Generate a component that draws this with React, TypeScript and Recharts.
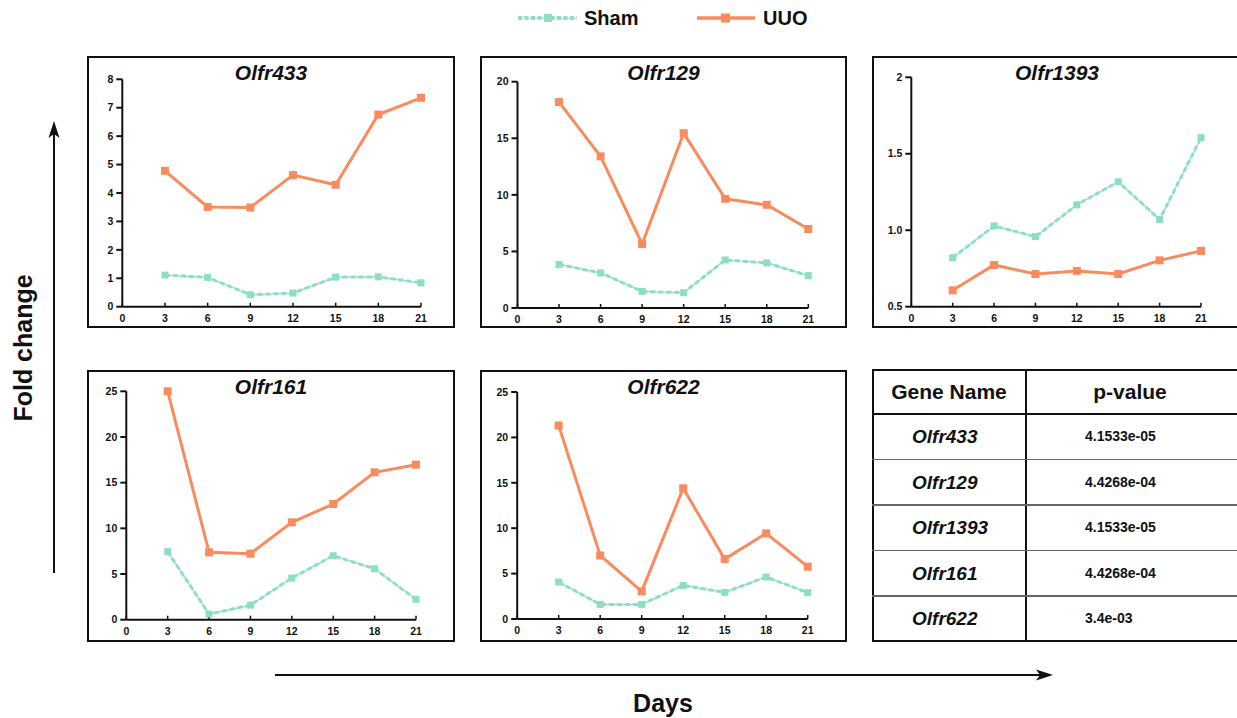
import React from "react";
import { LineChart, Line, XAxis, YAxis } from "recharts";

const FONT = '"Liberation Sans", Arial, Helvetica, sans-serif';
const ORANGE = "#F98B5E";
const TEAL = "#8CDFC1";
const INK = "#111";

// days on the x axis
const days = [3, 6, 9, 12, 15, 18, 21];
const xTicks = [0, 3, 6, 9, 12, 15, 18, 21];

// fold change per gene
const olfr433Sham = [1.11, 1.03, 0.42, 0.48, 1.04, 1.05, 0.84];
const olfr433Uuo = [4.78, 3.51, 3.49, 4.63, 4.29, 6.76, 7.35];
const olfr129Sham = [3.85, 3.1, 1.47, 1.35, 4.25, 3.98, 2.86];
const olfr129Uuo = [18.2, 13.4, 5.65, 15.45, 9.65, 9.12, 6.98];
const olfr1393Sham = [0.82, 1.028, 0.958, 1.166, 1.317, 1.07, 1.605];
const olfr1393Uuo = [0.607, 0.773, 0.714, 0.734, 0.714, 0.803, 0.865];
const olfr161Sham = [7.45, 0.62, 1.6, 4.56, 7.0, 5.58, 2.23];
const olfr161Uuo = [25.0, 7.37, 7.23, 10.66, 12.66, 16.13, 16.97];
const olfr622Sham = [4.07, 1.61, 1.61, 3.7, 2.93, 4.62, 2.9];
const olfr622Uuo = [21.3, 7.0, 3.04, 14.4, 6.6, 9.43, 5.76];

const yTicks433 = [0, 1, 2, 3, 4, 5, 6, 7, 8];
const yTicks129 = [0, 5, 10, 15, 20];
const yTicks1393 = [0.5, 1.0, 1.5, 2];
const yLabels1393 = ["0.5", "1.0", "1.5", "2"];
const yTicks25 = [0, 5, 10, 15, 20, 25];

const geneNames = ["Olfr433", "Olfr129", "Olfr1393", "Olfr161", "Olfr622"];
const pValues = ["4.1533e-05", "4.4268e-04", "4.1533e-05", "4.4268e-04", "3.4e-03"];

const panels = [
  { name: "Olfr433", sham: olfr433Sham, uuo: olfr433Uuo, yTicks: yTicks433, yDomain: [0, 8],
    box: [87, 56, 368, 272], pad: [23.3, 34, 21.3, 35.3] },
  { name: "Olfr129", sham: olfr129Sham, uuo: olfr129Uuo, yTicks: yTicks129, yDomain: [0, 20],
    box: [480, 56, 367, 272], pad: [25.7, 38.7, 20, 37.5] },
  { name: "Olfr1393", sham: olfr1393Sham, uuo: olfr1393Uuo, yTicks: yTicks1393, yLabels: yLabels1393,
    yDomain: [0.5, 2], box: [872, 56, 370, 272], pad: [21.3, 41, 21.3, 39.3] },
  { name: "Olfr161", sham: olfr161Sham, uuo: olfr161Uuo, yTicks: yTicks25, yDomain: [0, 25],
    box: [87, 370, 368, 272], pad: [21.3, 39, 22.3, 39.3] },
  { name: "Olfr622", sham: olfr622Sham, uuo: olfr622Uuo, yTicks: yTicks25, yDomain: [0, 25],
    box: [480, 370, 367, 272], pad: [22, 39.3, 23, 37.2] },
];

const squareDot = (color: string, size: number) => (p: any) => (
  <rect key={p.index} x={p.cx - size / 2} y={p.cy - size / 2} width={size} height={size} fill={color} />
);

const tickStyle = { fontSize: 10.5, fontWeight: 700, fill: INK, fontFamily: FONT };

function GenePanel({ spec }: { spec: any }) {
  const [left, top, width, height] = spec.box;
  const [pt, pr, pb, pl] = spec.pad;
  const data = days.map((d, i) => ({ day: d, sham: spec.sham[i], uuo: spec.uuo[i] }));
  return (
    <>
      <div style={{
        position: "absolute", left, top, width, height,
        border: `2px solid ${INK}`, boxSizing: "border-box",
      }} />
      <div style={{
        position: "absolute", left, top: top + 4, width, textAlign: "center",
        fontFamily: FONT, fontSize: 21, fontWeight: 700, fontStyle: "italic", lineHeight: "26px",
      }}>
        {spec.name}
      </div>
      <div style={{ position: "absolute", left, top }}>
        <LineChart width={width} height={height} data={data}
          margin={{ top: pt, right: pr, bottom: pb - 18, left: pl - 30 }}>
          <XAxis type="number" dataKey="day" domain={[0, 21]} ticks={xTicks} interval={0}
            height={18} tick={tickStyle} tickSize={-4} tickMargin={12}
            axisLine={{ stroke: INK, strokeWidth: 2 }} tickLine={{ stroke: INK, strokeWidth: 1.5 }} />
          <YAxis type="number" domain={spec.yDomain} ticks={spec.yTicks} interval={0} width={30}
            tick={tickStyle} tickSize={6} tickMargin={3}
            tickFormatter={(v: number, i: number) => (spec.yLabels ? spec.yLabels[i] : String(v))}
            axisLine={{ stroke: INK, strokeWidth: 2 }} tickLine={{ stroke: INK, strokeWidth: 2 }} />
          <Line type="linear" dataKey="sham" stroke={TEAL} strokeWidth={1.2} dot={false}
            isAnimationActive={false} />
          <Line type="linear" dataKey="sham" stroke={TEAL} strokeWidth={3} strokeDasharray="5 3"
            dot={squareDot(TEAL, 7)} isAnimationActive={false} />
          <Line type="linear" dataKey="uuo" stroke={ORANGE} strokeWidth={3}
            dot={squareDot(ORANGE, 8)} isAnimationActive={false} />
        </LineChart>
      </div>
    </>
  );
}

function PTable() {
  const left = 872, top = 369, rowTop = 414, rowH = 45.5;
  return (
    <>
      <div style={{
        position: "absolute", left, top, width: 380, height: 273,
        border: `2px solid ${INK}`, boxSizing: "border-box",
      }} />
      <div style={{ position: "absolute", left: 1025, top, width: 2, height: 273, background: INK }} />
      <div style={{ position: "absolute", left, top: rowTop - 1, width: 380, height: 2, background: INK }} />
      {geneNames.slice(1).map((_, i) => (
        <div key={i} style={{
          position: "absolute", left, top: rowTop + rowH * (i + 1) - 1, width: 380, height: 1.5,
          background: "#666",
        }} />
      ))}
      <div style={{
        position: "absolute", left, width: 154, top, height: 45, lineHeight: "45px",
        textAlign: "center", fontFamily: FONT, fontSize: 21, fontWeight: 700,
      }}>Gene Name</div>
      <div style={{
        position: "absolute", left: 1030, width: 200, top, height: 45, lineHeight: "45px",
        textAlign: "center", fontFamily: FONT, fontSize: 21, fontWeight: 700,
      }}>p-value</div>
      {geneNames.map((g, i) => (
        <React.Fragment key={g}>
          <div style={{
            position: "absolute", left: 912, top: rowTop + rowH * i, height: rowH, lineHeight: `${rowH}px`,
            fontFamily: FONT, fontSize: 19, fontWeight: 700, fontStyle: "italic",
          }}>{g}</div>
          <div style={{
            position: "absolute", left: 1085, top: rowTop + rowH * i, height: rowH, lineHeight: `${rowH}px`,
            fontFamily: FONT, fontSize: 14, fontWeight: 700,
          }}>{pValues[i]}</div>
        </React.Fragment>
      ))}
    </>
  );
}

export default function App() {
  return (
    <div style={{
      position: "absolute", left: 0, top: 0, width: 1237, height: 718, overflow: "hidden",
      background: "#fff", fontFamily: FONT, color: INK,
    }}>
      <svg width={1237} height={718} style={{ position: "absolute", left: 0, top: 0 }}>
        {/* legend */}
        <line x1={518} y1={18} x2={577} y2={18} stroke={TEAL} strokeWidth={1.2} />
        <line x1={518} y1={18} x2={577} y2={18} stroke={TEAL} strokeWidth={4} strokeDasharray="4 2.5" />
        <rect x={544} y={14} width={8} height={8} fill={TEAL} />
        <text x={584} y={18} dominantBaseline="central" fontSize={20} fontWeight={700} fill={INK}
          fontFamily={FONT}>Sham</text>
        <line x1={697} y1={18} x2={755} y2={18} stroke={ORANGE} strokeWidth={3.5} />
        <rect x={721} y={13.5} width={9} height={9} fill={ORANGE} />
        <text x={763} y={18} dominantBaseline="central" fontSize={20} fontWeight={700} fill={INK}
          fontFamily={FONT}>UUO</text>

        {/* axis arrows */}
        <line x1={54} y1={573} x2={54} y2={134} stroke={INK} strokeWidth={2} />
        <polygon points="54,121 48.5,138 54,134 59.5,138" fill={INK} />
        <line x1={275} y1={675} x2={1040} y2={675} stroke={INK} strokeWidth={2} />
        <polygon points="1053,675 1036,669.5 1040,675 1036,680.5" fill={INK} />
        <text x={23} y={348} transform="rotate(-90 23 348)" textAnchor="middle" dominantBaseline="central"
          fontSize={25} fontWeight={700} fill={INK} fontFamily={FONT}>Fold change</text>
        <text x={663} y={703} textAnchor="middle" dominantBaseline="central"
          fontSize={25} fontWeight={700} fill={INK} fontFamily={FONT}>Days</text>
      </svg>
      {panels.map((p) => <GenePanel key={p.name} spec={p} />)}
      <PTable />
    </div>
  );
}
